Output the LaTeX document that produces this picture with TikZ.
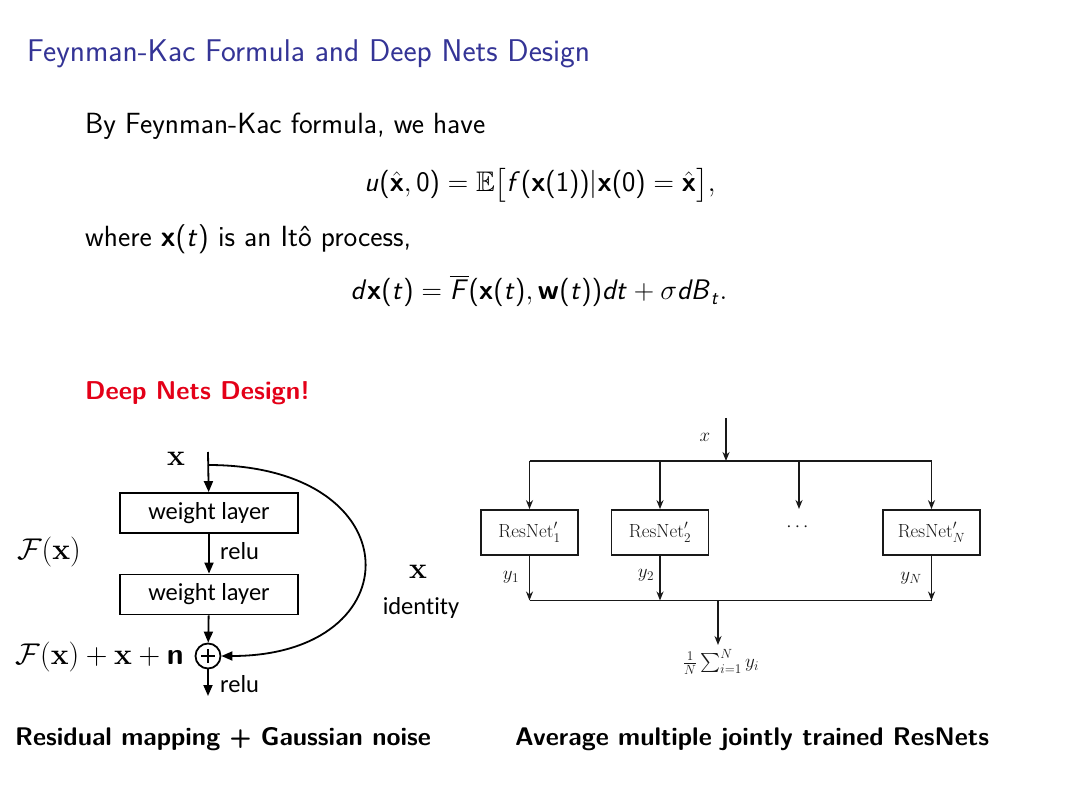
\RequirePackage{fix-cm}
\documentclass[tikz,border=0pt]{standalone}
\usepackage{amsmath,amssymb}
\usepackage[no-math]{fontspec}
\newfontfamily\carlito{Carlito}[Ligatures={NoCommon}]
\usetikzlibrary{arrows.meta}
\DeclareMathAlphabet{\mathsfsl}{OT1}{cmss}{m}{sl}
\DeclareMathAlphabet{\mathsfbf}{OT1}{cmss}{bx}{n}
\newcommand\tp[1]{\text{#1}}
\newcommand\eqone{$\mathsfsl{u}\tp{(}\hat{\mathsfbf{x}},\tp{0)}=\mathbb{E}\bigl[\mathsfsl{f}\tp{(}\mathsfbf{x}\tp{(1))}\vert\mathsfbf{x}\tp{(0)}=\hat{\mathsfbf{x}}\bigr],$}
\newcommand\eqtwo{$\mathsfsl{d}\mathsfbf{x}\tp{(}\mathsfsl{t}\tp{)}=\overline{\mathsfsl{F}}\tp{(}\mathsfbf{x}\tp{(}\mathsfsl{t}\tp{)},\mathsfbf{w}\tp{(}\mathsfsl{t}\tp{))}\mathsfsl{dt}+\sigma\mathsfsl{dB}_{\mathsfsl{t}}.$}
\newcommand\xt{$\mathsfbf{x}\tp{(}\mathsfsl{t}\tp{)}$}
\definecolor{titleblue}{RGB}{52,52,150}
\definecolor{alertred}{RGB}{228,0,24}
\definecolor{figgray}{RGB}{25,25,25}
\tikzset{
  body/.style={anchor=base west, inner sep=0, font=\sffamily\fontsize{29.2}{34}\selectfont},
  eqn/.style={anchor=base, inner sep=0, font=\sffamily\fontsize{28.3}{34}\selectfont},
  captext/.style={anchor=base west, inner sep=0, font=\sffamily\bfseries\fontsize{25.5}{30}\selectfont},
  wl/.style={draw, line width=1.8pt, minimum width=178pt, minimum height=40pt, inner sep=0,
             font=\carlito\fontsize{24.5}{28}\selectfont},
  cal/.style={inner sep=0, font=\carlito\fontsize{24.5}{28}\selectfont},
  bigm/.style={inner sep=0, font=\fontsize{30}{34}\selectfont},
  arr/.style={line width=1.8pt, -{Triangle[length=11pt,width=9pt]}},
  rn/.style={draw=figgray, line width=1.7pt, minimum width=97pt, minimum height=45pt, inner sep=0,
             text=figgray, font=\fontsize{19}{22}\selectfont},
  rlab/.style={inner sep=0, text=figgray, font=\fontsize{19}{22}\selectfont},
  ln/.style={draw=figgray, line width=1.7pt},
  arr2/.style={ln, -{Stealth[length=9pt,width=7pt]}},
}
\begin{document}
\begin{tikzpicture}[x=1pt,y=-1pt]
\fill[white] (0,0) rectangle (1080,810);
\useasboundingbox (0,0) rectangle (1080,810);

% text of the slide
\node[anchor=base west, inner sep=0, text=titleblue, font=\sffamily\fontsize{31.4}{37}\selectfont] (title) at (27,62) {Feynman-Kac Formula and Deep Nets Design};
\node[body] (l1) at (85,134) {By Feynman-Kac formula, we have};
\node[eqn] (eq1) at (540,192) {\eqone};
\node[body] (l2) at (85,247) {where \xt{} is an Itô process,};
\node[eqn] (eq2) at (539,300) {\eqtwo};
\node[body, text=alertred, font=\sffamily\bfseries\fontsize{25.8}{30}\selectfont] (alert) at (85,400) {Deep Nets Design!};

% left figure: residual block
\coordinate (xin) at (208,452);
\coordinate (split) at (208,465);
\node[wl] (w1) at (209,513) {weight layer};
\node[wl] (w2) at (209,594.5) {weight layer};
\node[circle, draw, line width=1.8pt, minimum size=25pt, inner sep=0] (plus) at (208,656) {};
\draw[line width=1.6pt] ([xshift=-7pt]plus.center) -- ([xshift=7pt]plus.center);
\draw[line width=1.6pt] ([yshift=-7pt]plus.center) -- ([yshift=7pt]plus.center);
\coordinate (out) at (208,696);
\draw[arr] (xin) -- (w1);
\draw[arr] (w1) -- (w2);
\draw[arr] (w2) -- (plus);
\draw[arr] (plus) -- (out);
\draw[arr] (split) .. controls (414,465) and (414,656) .. (plus.east);
\node[bigm] (xtop) at (176,459) {$\mathbf{x}$};
\node[cal, anchor=west] (relu1) at (220,551) {relu};
\node[cal, anchor=west] (relu2) at (220,684) {relu};
\node[bigm] (fx) at (49,552) {$\mathcal{F}(\mathbf{x})$};
\node[bigm, anchor=east] (fsum) at (184,657) {$\mathcal{F}(\mathbf{x})+\mathbf{x}+\textsf{\textbf{n}}$};
\node[bigm] (xid) at (418,572) {$\mathbf{x}$};
\node[cal] (ident) at (421,608) {identity};
\node[captext] (cap1) at (15,745) {Residual mapping + Gaussian noise};

% right figure: averaged ResNets
\coordinate (xsrc) at (726,418);
\coordinate (tjoin) at (726,461);
\node[rn] (r1) at (529.5,532.5) {$\mathrm{ResNet}'_1$};
\node[rn] (r2) at (660,532.5) {$\mathrm{ResNet}'_2$};
\node[rn] (rN) at (931.5,532.5) {$\mathrm{ResNet}'_N$};
\node[rlab] (dots) at (799,527) {$\cdots$};
\coordinate (dtip) at (799,509);
\coordinate (bjoin) at (718,600.5);
\coordinate (stip) at (718,645);
\draw[arr2] (xsrc) -- (tjoin);
\draw[ln] (r1 |- tjoin) -- (rN |- tjoin);
\draw[arr2] (r1 |- tjoin) -- (r1);
\draw[arr2] (r2 |- tjoin) -- (r2);
\draw[arr2] (dtip |- tjoin) -- (dtip);
\draw[arr2] (rN |- tjoin) -- (rN);
\draw[arr2] (r1) -- (r1 |- bjoin);
\draw[arr2] (r2) -- (r2 |- bjoin);
\draw[arr2] (rN) -- (rN |- bjoin);
\draw[ln] (r1 |- bjoin) -- (rN |- bjoin);
\draw[arr2] (bjoin) -- (stip);
\node[rlab] (xlab) at (705,437) {$x$};
\node[rlab] (y1) at (511,577) {$y_1$};
\node[rlab] (y2) at (646,575) {$y_2$};
\node[rlab] (yN) at (911,578) {$y_N$};
\node[rlab] (avg) at (721,662) {$\frac{1}{N}\sum_{i=1}^{N} y_i$};
\node[captext] (cap2) at (515,745) {Average multiple jointly trained ResNets};
\end{tikzpicture}
\end{document}
